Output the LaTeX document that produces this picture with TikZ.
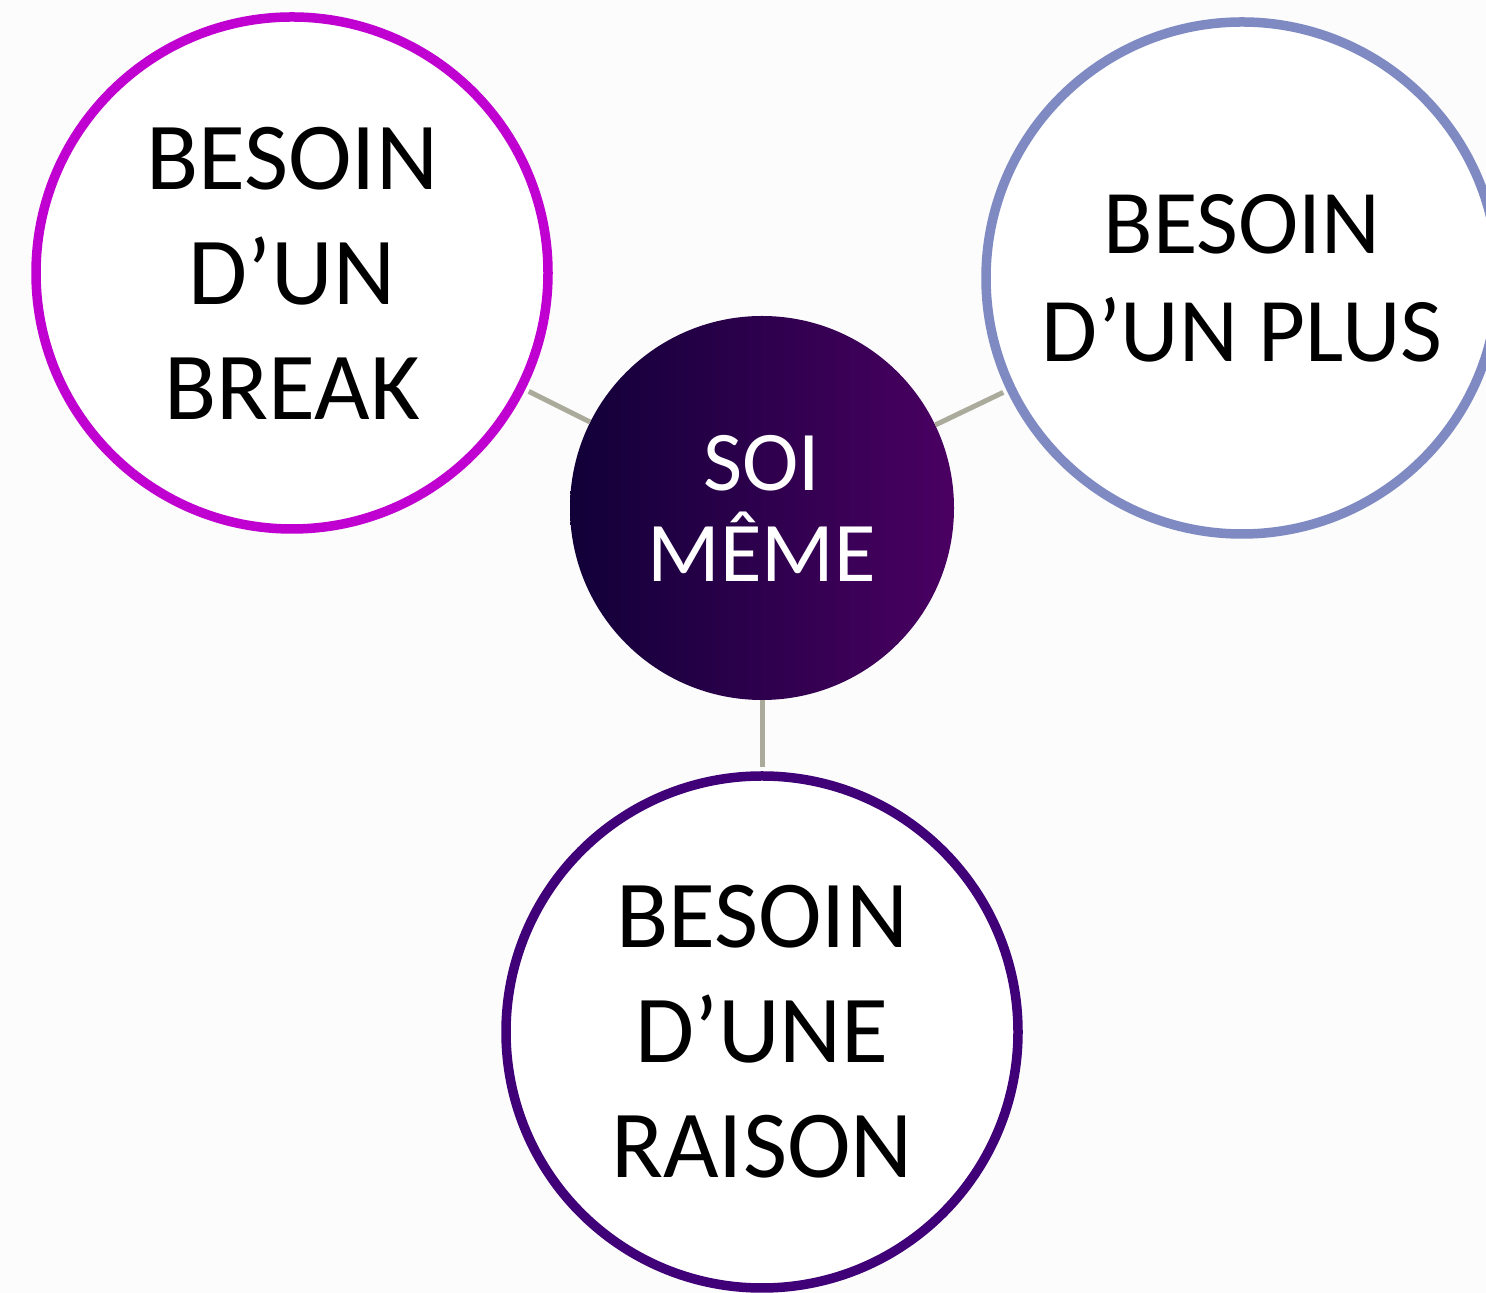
\documentclass[tikz,border=0pt]{standalone}
\usepackage{fontspec}
\setmainfont{Carlito}
\usepackage{xcolor}
\definecolor{fond}{HTML}{FCFCFC}
\definecolor{lien}{HTML}{ABAB9C}
\definecolor{rose}{HTML}{C000D0}
\definecolor{lavande}{HTML}{7F8AC2}
\definecolor{violet}{HTML}{400078}
\definecolor{nuitA}{HTML}{110038}
\definecolor{nuitB}{HTML}{4A0062}

\begin{document}
\begin{tikzpicture}[x=1pt,y=1pt,
        bulle/.style={circle,draw,line width=9.5pt,fill=white,minimum size=512pt,
                inner sep=0pt,align=center,font=\fontsize{96}{115}\selectfont},
        trait/.style={draw=lien,line width=5pt,shorten >=4pt}]
        \fill[fond] (0,0) rectangle (1486,1293);
        \useasboundingbox (0,0) rectangle (1486,1293);
        \node[circle,minimum size=384pt,inner sep=0pt,left color=nuitA,right color=nuitB,
                text=white,align=center,font=\fontsize{85}{91}\selectfont](soi) at (762,785) {SOI\\MÊME};
        \node[bulle,draw=rose](brk) at (292,1020) {BESOIN\\D’UN\\BREAK};
        \node[bulle,draw=lavande,font=\fontsize{91}{108}\selectfont](plus) at (1242,1015) {BESOIN\\D’UN PLUS};
        \node[bulle,draw=violet](raison) at (762,261) {BESOIN\\D’UNE\\RAISON};
        \draw[trait](soi)--(brk);
        \draw[trait](soi)--(plus);
        \draw[trait](soi)--(raison);
        \end{tikzpicture}
\end{document}
